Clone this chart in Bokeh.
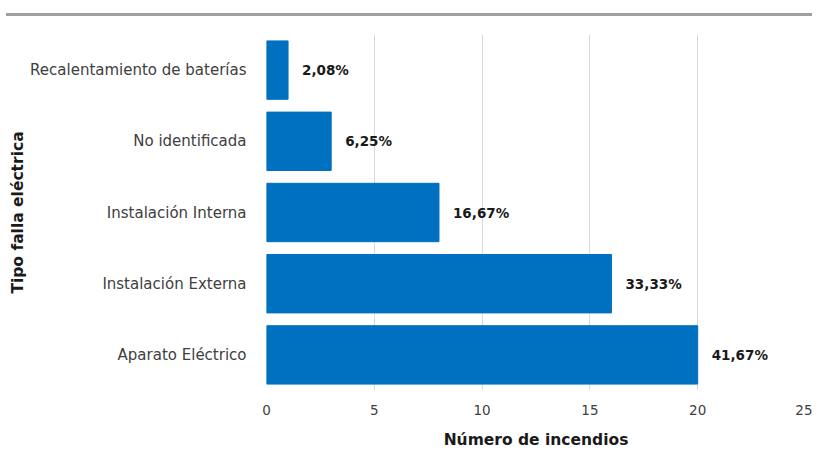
from bokeh.plotting import figure
from bokeh.models import Range1d, FactorRange, ColumnDataSource, Div, FixedTicker
from bokeh.layouts import column
from bokeh.embed import file_html
from bokeh.resources import INLINE
from bokeh.core.properties import value

categories = ["Aparato Eléctrico", "Instalación Externa", "Instalación Interna",
              "No identificada", "Recalentamiento de baterías"]
counts = [20, 16, 8, 3, 1]
pct_labels = ["41,67%", "33,33%", "16,67%", "6,25%", "2,08%"]
x_ticks = [0, 5, 10, 15, 20, 25]

FONT = "DejaVu Sans"

src = ColumnDataSource(dict(cat=categories, n=counts, lab=pct_labels))

p = figure(width=812, height=441, output_backend="svg", toolbar_location=None,
           y_range=FactorRange(*categories, range_padding=0),
           x_range=Range1d(0, 25),
           min_border_left=266, min_border_right=7, min_border_top=13, min_border_bottom=72)
p.outline_line_color = None
p.hbar(y="cat", right="n", left=0, height=0.82, source=src,
       fill_color="#0070C0", line_color="#0070C0")
p.text(x="n", y="cat", text="lab", source=src, x_offset=14,
       text_baseline="middle", text_align="left",
       text_font=value(FONT), text_font_size="13.5px", text_font_style="bold",
       text_color="#1a1a1a")

p.xaxis.ticker = FixedTicker(ticks=x_ticks)
p.xaxis.axis_line_color = None
p.xaxis.major_tick_line_color = None
p.xaxis.minor_tick_line_color = None
p.xaxis.major_label_text_font = FONT
p.xaxis.major_label_text_font_size = "13.5px"
p.xaxis.major_label_text_color = "#404040"
p.xaxis.major_label_standoff = 8
p.xaxis.axis_label = "Número de incendios"
p.xaxis.axis_label_text_font = FONT
p.xaxis.axis_label_text_font_size = "15.5px"
p.xaxis.axis_label_text_font_style = "bold"
p.xaxis.axis_label_text_color = "#1a1a1a"
p.xaxis.axis_label_standoff = 13

p.yaxis.axis_line_color = None
p.yaxis.major_tick_line_color = None
p.yaxis.minor_tick_line_color = None
p.yaxis.major_label_text_font = FONT
p.yaxis.major_label_text_font_size = "15px"
p.yaxis.major_label_text_color = "#404040"
p.yaxis.major_label_standoff = 14
p.yaxis.axis_label = "Tipo falla eléctrica"
p.yaxis.axis_label_text_font = FONT
p.yaxis.axis_label_text_font_size = "15.5px"
p.yaxis.axis_label_text_font_style = "bold"
p.yaxis.axis_label_text_color = "#1a1a1a"
p.yaxis.axis_label_standoff = 0

p.ygrid.grid_line_color = None
p.xgrid.grid_line_color = "#d9d9d9"
p.xgrid.ticker = FixedTicker(ticks=x_ticks)

top = Div(text="", width=806, height=8,
          styles={"border-bottom": "3px solid #a0a0a0", "box-sizing": "content-box",
                  "margin-left": "6px"})

layout = column(top, p, spacing=0)
open("out.html", "w").write(file_html(layout, INLINE))
